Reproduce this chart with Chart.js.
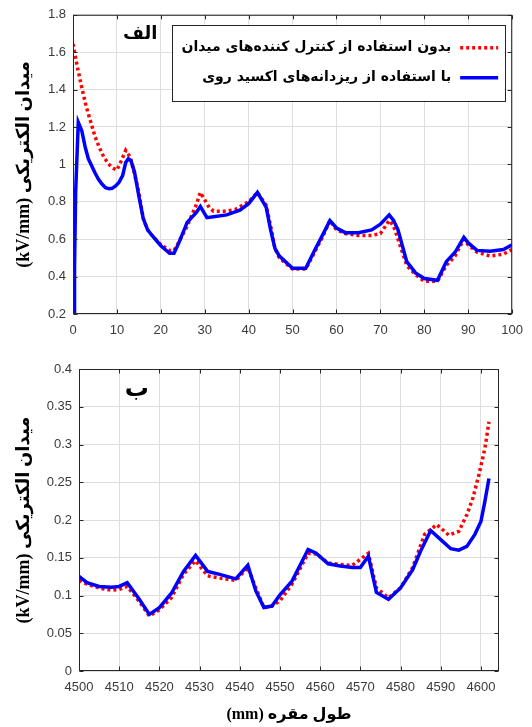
<!DOCTYPE html>
<html><head><meta charset="utf-8">
<script src="https://cdn.jsdelivr.net/npm/chart.js@4/dist/chart.umd.min.js"></script>
<style>
html,body{margin:0;padding:0;background:#fff;width:532px;height:727px;overflow:hidden}
.box{position:absolute;left:0;width:532px}
#b1{top:0;height:340px}
#b2{top:345px;height:382px}
canvas{display:block}
</style></head><body>
<div class="box" id="b1"><canvas id="c1" dir="rtl" width="532" height="340"></canvas></div>
<div class="box" id="b2"><canvas id="c2" dir="rtl" width="532" height="382"></canvas></div>
<script>
// ---------- data ----------
const legendLabels = ['بدون استفاده از کنترل کننده‌های میدان', 'با استفاده از ریزدانه‌های اکسید روی'];
const yTitle = 'میدان الکتریکی (kV/mm)';
const xTitle = 'طول مقره (mm)';
const panelTop = 'الف';
const panelBottom = 'ب';

// top panel (الف)
const topXTicks = [0,10,20,30,40,50,60,70,80,90,100];
const topXLabels = ['0','10','20','30','40','50','60','70','80','90','100'];
const topYTicks = [0.2,0.4,0.6,0.8,1.0,1.2,1.4,1.6,1.8];
const topYLabels = ['0.2','0.4','0.6','0.8','1','1.2','1.4','1.6','1.8'];

const topRedX = [0,1,2,3,4,5,6,7,8,9,10,11,12,13,14,15,16,17,18,20,22,23,24,26,28,29,30,31,32,35,37,40,42,44,45,46,47,50,53,55,57,58.5,60,62,65,68,70,72,73,74,76,78,80,83,85,87,89,90,92,95,98,100];
const topRedY = [1.644,1.52,1.41,1.31,1.23,1.15,1.09,1.04,1.005,0.98,0.97,1.02,1.075,1.04,0.95,0.85,0.71,0.65,0.62,0.57,0.54,0.54,0.58,0.67,0.78,0.85,0.81,0.77,0.75,0.75,0.76,0.80,0.85,0.78,0.67,0.55,0.50,0.44,0.44,0.53,0.62,0.70,0.65,0.63,0.62,0.62,0.63,0.70,0.67,0.60,0.46,0.41,0.375,0.375,0.46,0.51,0.60,0.57,0.53,0.51,0.52,0.545];

const topBlueX = [0.3,0.35,0.6,1.2,2,2.8,3.5,4.3,5,5.8,6.6,7.4,8.2,8.9,9.7,10.5,11.3,12,12.6,13.2,14,15,16,17,18,20,22,23,24,26,28,29,30.5,32,35,38,40,42,44,45,46,47,50,53,55,57,58.5,60,62,65,68,70,72,73,74,76,78,80,83,85,87,89,90,92,95,98,100];
const topBlueY = [0.2,0.45,0.85,1.225,1.18,1.09,1.03,0.99,0.955,0.92,0.895,0.875,0.87,0.872,0.885,0.905,0.94,1.01,1.03,1.02,0.96,0.83,0.71,0.65,0.62,0.565,0.525,0.525,0.575,0.69,0.74,0.775,0.715,0.72,0.73,0.755,0.79,0.85,0.77,0.65,0.55,0.51,0.445,0.445,0.54,0.63,0.70,0.66,0.635,0.635,0.65,0.68,0.73,0.70,0.65,0.48,0.42,0.39,0.38,0.48,0.53,0.61,0.58,0.54,0.535,0.545,0.57];

// bottom panel (ب)
const botXTicks = [4500,4510,4520,4530,4540,4550,4560,4570,4580,4590,4600];
const botXLabels = ['4500','4510','4520','4530','4540','4550','4560','4570','4580','4590','4600'];
const botYTicks = [0,0.05,0.1,0.15,0.2,0.25,0.3,0.35,0.4];
const botYLabels = ['0','0.05','0.1','0.15','0.2','0.25','0.3','0.35','0.4'];

const botRedX = [4500,4502,4505,4508,4510,4512,4515,4517.5,4520,4523,4526,4529,4532,4535,4539,4542,4544,4546,4548,4550,4553,4557,4559,4562,4565,4568,4570,4572,4574,4577,4580,4583,4586,4589,4592,4594.5,4596.5,4598,4599.5,4601,4602];
const botRedY = [0.120,0.115,0.110,0.107,0.108,0.112,0.092,0.073,0.081,0.097,0.128,0.146,0.126,0.123,0.120,0.137,0.110,0.084,0.086,0.093,0.115,0.156,0.155,0.143,0.141,0.140,0.148,0.156,0.110,0.097,0.110,0.137,0.181,0.194,0.180,0.185,0.207,0.229,0.260,0.295,0.330];

const botBlueX = [4500,4502,4505,4508,4510,4512,4515,4517.5,4520,4523,4526,4529,4532,4535,4539,4542,4544,4546,4548,4550,4553,4557,4559,4562,4565,4568,4570,4572,4574,4577,4580,4583,4585,4587.5,4590,4592.5,4594.5,4596.5,4598.5,4600,4601,4602];
const botBlueY = [0.1255,0.117,0.112,0.111,0.112,0.117,0.095,0.075,0.084,0.103,0.132,0.153,0.132,0.128,0.122,0.140,0.106,0.084,0.086,0.101,0.119,0.161,0.156,0.142,0.139,0.137,0.137,0.152,0.104,0.095,0.110,0.134,0.159,0.186,0.174,0.162,0.160,0.165,0.181,0.198,0.225,0.255];

// ---------- helpers ----------
const zip = (xs, ys) => xs.map((x, i) => ({x: x, y: ys[i]}));
const RED = '#ff0000', BLUE = '#0000ff', GRID = '#dedede', AXIS = '#262626', TICKC = '#3a3a3a';
const TITLE_FONT = '"Liberation Serif", "DejaVu Sans", serif';
const PERSIAN_FONT = '"DejaVu Sans", sans-serif';

const framePlugin = {
  id: 'frame',
  afterDraw(chart) {
    const {ctx, chartArea: a, scales} = chart;
    const L = a.left + 0.5, R = a.right - 0.5, T = a.top + 0.5, B = a.bottom - 0.5;
    const tl = 4;
    ctx.save();
    ctx.direction = 'ltr';
    ctx.strokeStyle = AXIS; ctx.lineWidth = 1;
    ctx.beginPath();
    scales.x.ticks.forEach(t => {
      const px = Math.round(scales.x.getPixelForValue(t.value)) + 0.5;
      ctx.moveTo(px, B); ctx.lineTo(px, B - tl);
      ctx.moveTo(px, T); ctx.lineTo(px, T + tl);
    });
    scales.y.ticks.forEach(t => {
      const py = Math.round(scales.y.getPixelForValue(t.value)) + 0.5;
      ctx.moveTo(L, py); ctx.lineTo(L + tl, py);
      ctx.moveTo(R, py); ctx.lineTo(R - tl, py);
    });
    ctx.stroke();
    ctx.strokeRect(L, T, R - L, B - T);
    ctx.restore();
  }
};

const panelLabelPlugin = {
  id: 'panelLabel',
  afterDraw(chart, args, o) {
    if (!o || !o.text) return;
    const {ctx, scales} = chart;
    ctx.save();
    ctx.direction = 'rtl';
    ctx.font = 'bold ' + o.size + 'px ' + PERSIAN_FONT;
    ctx.fillStyle = '#000';
    ctx.textAlign = 'center';
    ctx.textBaseline = 'middle';
    ctx.fillText(o.text, scales.x.getPixelForValue(o.x), scales.y.getPixelForValue(o.y));
    ctx.restore();
  }
};

const boxLegendPlugin = {
  id: 'boxLegend',
  afterDraw(chart, args, o) {
    if (!o || !o.show) return;
    const {ctx, chartArea: a} = chart;
    const ds = chart.data.datasets.slice().sort((p, q) => p.legendOrder - q.legendOrder);
    ctx.save();
    ctx.direction = 'rtl';
    ctx.font = 'bold ' + o.size + 'px ' + PERSIAN_FONT;
    const textW = Math.max(...ds.map(d => ctx.measureText(d.label).width));
    const padL = 10, gap = 9, sample = 38, padR = 6, rowH = 30, padTB = 7;
    const w = padL + textW + gap + sample + padR;
    const h = padTB * 2 + rowH * ds.length + 2;
    const right = a.right - o.marginRight, top = a.top + o.marginTop;
    const left = right - w;
    ctx.fillStyle = '#fff';
    ctx.fillRect(left, top, w, h);
    ctx.strokeStyle = AXIS; ctx.lineWidth = 1;
    ctx.strokeRect(Math.round(left) + 0.5, Math.round(top) + 0.5, Math.round(w), Math.round(h));
    ds.forEach((d, i) => {
      const cy = top + padTB + 1 + rowH * (i + 0.5);
      const sx1 = right - padR - sample, sx2 = right - padR;
      ctx.save();
      ctx.strokeStyle = d.borderColor; ctx.lineWidth = d.borderWidth;
      ctx.setLineDash(d.borderDash || []);
      ctx.beginPath(); ctx.moveTo(sx1, cy); ctx.lineTo(sx2, cy); ctx.stroke();
      ctx.restore();
      ctx.fillStyle = '#000';
      ctx.textAlign = 'right';
      ctx.textBaseline = 'middle';
      ctx.fillText(d.label, sx1 - gap, cy);
    });
    ctx.restore();
  }
};

function makeChart(id, cfg) {
  const tickFont = {family: '"Liberation Sans", Arial, sans-serif', size: 13};
  return new Chart(document.getElementById(id), {
    type: 'line',
    data: {
      datasets: [
        {label: legendLabels[1], legendOrder: 1, data: zip(cfg.blueX, cfg.blueY), borderColor: BLUE, borderWidth: 3.5, pointRadius: 0, tension: 0, fill: false},
        {label: legendLabels[0], legendOrder: 0, data: zip(cfg.redX, cfg.redY), borderColor: RED, borderWidth: 3.5, borderDash: [3, 3], pointRadius: 0, tension: 0, fill: false}
      ]
    },
    options: {
      responsive: false,
      animation: false,
      devicePixelRatio: 1,
      layout: {padding: {top: cfg.padTop, right: cfg.padRight, left: 0, bottom: 0}},
      plugins: {
        legend: {display: false},
        tooltip: {enabled: false},
        boxLegend: cfg.legend,
        panelLabel: cfg.panel
      },
      scales: {
        x: {
          type: 'linear', min: cfg.xMin, max: cfg.xMax,
          afterBuildTicks: s => { s.ticks = cfg.xTicks.map(v => ({value: v})); },
          afterFit: s => { s.height = cfg.xHeight; },
          ticks: {callback: (v, i) => cfg.xLabels[i], maxRotation: 0, autoSkip: false, padding: 9, font: tickFont, color: TICKC},
          grid: {color: GRID, lineWidth: 1, drawTicks: false},
          border: {display: false},
          title: cfg.xTitle ? {display: true, text: cfg.xTitle, color: '#000', font: {family: TITLE_FONT, size: 16, weight: 'bold'}, padding: 3} : {display: false}
        },
        y: {
          type: 'linear', min: cfg.yMin, max: cfg.yMax,
          afterBuildTicks: s => { s.ticks = cfg.yTicks.map(v => ({value: v})); },
          afterFit: s => { s.width = cfg.yWidth; },
          ticks: {callback: (v, i) => cfg.yLabels[i], autoSkip: false, padding: 7, font: tickFont, color: TICKC},
          grid: {color: GRID, lineWidth: 1, drawTicks: false},
          border: {display: false},
          title: {display: true, text: yTitle, color: '#000', font: {family: TITLE_FONT, size: 18, weight: 'bold'}, padding: 14}
        }
      }
    },
    plugins: [framePlugin, boxLegendPlugin, panelLabelPlugin]
  });
}

makeChart('c1', {
  redX: topRedX, redY: topRedY, blueX: topBlueX, blueY: topBlueY,
  xMin: 0, xMax: 100, yMin: 0.2, yMax: 1.8,
  xTicks: topXTicks, xLabels: topXLabels, yTicks: topYTicks, yLabels: topYLabels,
  padTop: 12, padRight: 16, xHeight: 26, yWidth: 73,
  legend: {show: true, size: 14, marginRight: 8, marginTop: 10},
  panel: {text: panelTop, x: 15.3, y: 1.695, size: 18},
  xTitle: null
});

makeChart('c2', {
  redX: botRedX, redY: botRedY, blueX: botBlueX, blueY: botBlueY,
  xMin: 4500, xMax: 4604.5, yMin: 0, yMax: 0.4,
  xTicks: botXTicks, xLabels: botXLabels, yTicks: botYTicks, yLabels: botYLabels,
  padTop: 24, padRight: 33, xHeight: 56, yWidth: 79,
  legend: {show: false},
  panel: {text: panelBottom, x: 4514.4, y: 0.373, size: 24},
  xTitle: xTitle
});
</script>
</body></html>
